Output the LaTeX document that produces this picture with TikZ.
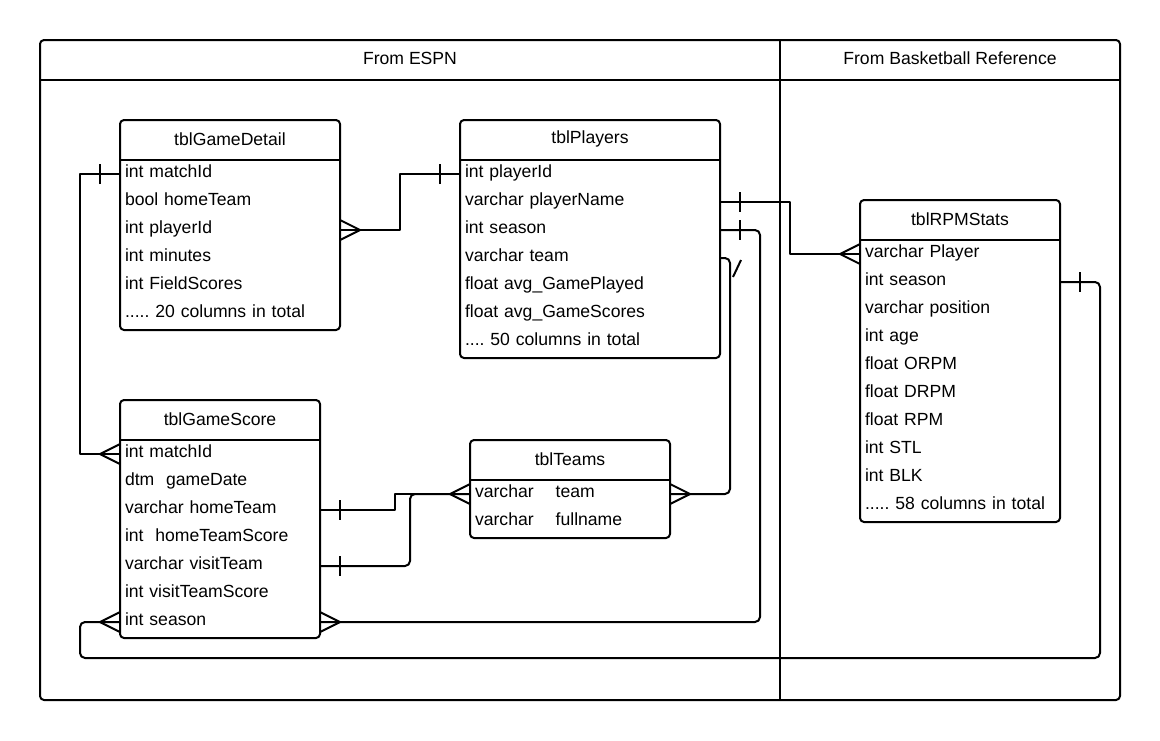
\documentclass[tikz,border=0pt]{standalone}
\usepackage{fontspec}
\setmainfont{Liberation Sans}
\newcommand{\fivedots}{.....}
\newcommand{\fourdots}{....}
\begin{document}
\begin{tikzpicture}[x=1pt,y=-1pt,line width=2pt,line join=round,
  txt/.style={font=\fontsize{17.6}{20}\selectfont},
  tblhead/.style={txt,inner sep=0pt},
  tblrow/.style={txt,text width=#1,inner xsep=5pt,inner ysep=0pt,outer sep=0pt,
    text height=12pt,text depth=5pt,minimum height=28pt,align=left},
  crow/.pic={\draw (0,-10) -- (20,0) -- (0,10);},
  bar/.pic={\draw (20,-10) -- (20,10);}]
\useasboundingbox (0,0) rectangle (1160,740);

%FRAME
\draw [rounded corners=4] (40,40) rectangle (1120,700);
\draw (40,80) -- (1120,80);
\draw (780,40) -- (780,700);
\node [tblhead] (espn) at (410,58) {From ESPN};
\node [tblhead] (bbref) at (950,58) {From Basketball Reference};

%TABLES
% tblGameDetail
\draw [rounded corners=4] (120,120) rectangle (340,330);
\draw (120,160) -- (340,160);
\node [tblhead] (gd) at (230,139) {tblGameDetail};
\foreach \t [count=\i] in {int matchId, bool homeTeam, int playerId, int minutes,
  int FieldScores, \fivedots\ 20 columns in total}
  \node [tblrow=210pt] (gd\i) at (230,146+28*\i) {\t};

% tblPlayers
\draw [rounded corners=4] (460,120) rectangle (720,358);
\draw (460,160) -- (720,160);
\node [tblhead] (pl) at (590,139) {tblPlayers};
\foreach \t [count=\i] in {int playerId, varchar playerName, int season, varchar team,
  float avg\_GamePlayed, float avg\_GameScores, \fourdots\ 50 columns in total}
  \node [tblrow=250pt] (pl\i) at (590,146+28*\i) {\t};

% tblRPMStats
\draw [rounded corners=4] (860,200) rectangle (1060,522);
\draw (860,240) -- (1060,240);
\node [tblhead] (rp) at (960,219) {tblRPMStats};
\foreach \t [count=\i] in {varchar Player, int season, varchar position, int age,
  float ORPM, float DRPM, float RPM, int STL, int BLK, \fivedots\ 58 columns in total}
  \node [tblrow=190pt] (rp\i) at (960,226+28*\i) {\t};

% tblGameScore
\draw [rounded corners=4] (120,400) rectangle (320,638);
\draw (120,440) -- (320,440);
\node [tblhead] (gs) at (220,419) {tblGameScore};
\foreach \t [count=\i] in {int matchId, dtm~~gameDate, varchar homeTeam,
  int~~homeTeamScore, varchar visitTeam, int visitTeamScore, int season}
  \node [tblrow=190pt] (gs\i) at (220,426+28*\i) {\t};

% tblTeams
\draw [rounded corners=4] (470,440) rectangle (670,538);
\draw (470,480) -- (670,480);
\node [tblhead] (tm) at (570,459) {tblTeams};
\foreach \t [count=\i] in {varchar\hspace{22pt}team, varchar\hspace{22pt}fullname}
  \node [tblrow=190pt] (tm\i) at (570,466+28*\i) {\t};

%RELATIONS
\draw (gd1.west) -- ++(-40,0) |- (gs1.west);
\pic [rotate=180] at (gd1.west) {bar};
\pic [rotate=180] at (gs1.west) {crow};

\draw (gd3.east) -- ++(60,0) |- (pl1.west);
\pic at (gd3.east) {crow};
\pic [rotate=180] at (pl1.west) {bar};

\draw (pl2.east) -- ++(70,0) |- (rp1.west);
\pic at (pl2.east) {bar};
\pic [rotate=180] at (rp1.west) {crow};

\draw [rounded corners=5] (pl3.east) -- ++(40,0) |- (gs7.east);
\pic at (pl3.east) {bar};
\pic at (gs7.east) {crow};

\draw [rounded corners=5] (pl4.east) -- ++(10,0) |- (tm1.east);
\draw ([shift={(13,19)}]pl4.east) -- ([shift={(21,2)}]pl4.east);
\pic at (tm1.east) {crow};

\draw (gs3.east) -- ++(75,0) |- (tm1.west);
\pic at (gs3.east) {bar};
\draw [rounded corners=5] (gs5.east) -- ++(90,0) |- (tm1.west);
\pic at (gs5.east) {bar};
\pic [rotate=180] at (tm1.west) {crow};

\coordinate (loop) at (80,658);
\draw [rounded corners=5] (rp2.east) -- ++(40,0) |- (loop) |- (gs7.west);
\pic at (rp2.east) {bar};
\pic [rotate=180] at (gs7.west) {crow};

\end{tikzpicture}
\end{document}
